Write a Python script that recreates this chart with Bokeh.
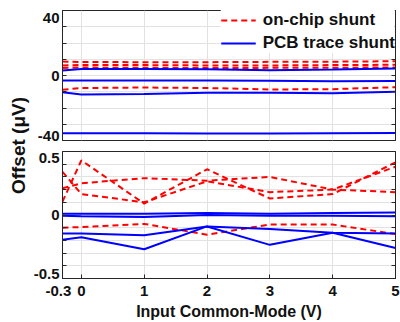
import math
from bokeh.plotting import figure
from bokeh.layouts import row, column
from bokeh.models import Range1d, FixedTicker, LinearAxis, Legend, LegendItem, Label
from bokeh.embed import file_html
from bokeh.resources import INLINE

# ---------------- data ----------------
x_vcm = [-0.3, 0, 1, 2, 3, 4, 5]
x_tick_values = [-0.3, 0, 1, 2, 3, 4, 5]
x_tick_labels = ["-0.3", "0", "1", "2", "3", "4", "5"]

top_onchip_1 = [8.6, 8.3, 8.2, 8.2, 8.4, 8.5, 8.8]
top_onchip_2 = [6.2, 6.5, 6.4, 6.2, 6.2, 6.4, 6.6]
top_onchip_3 = [4.6, 4.9, 4.7, 4.6, 4.7, 4.8, 4.9]
top_onchip_4 = [-8.8, -7.7, -7.4, -7.7, -8.6, -8.4, -7.2]
top_pcb_1 = [3.1, 4.0, 4.0, 3.9, 3.3, 3.7, 4.3]
top_pcb_2 = [-3.1, -3.0, -3.0, -3.1, -3.3, -3.5, -3.4]
top_pcb_3 = [-10.3, -11.7, -11.4, -10.6, -10.6, -10.9, -10.0]
top_pcb_4 = [-35.5, -35.5, -35.6, -35.7, -35.7, -35.6, -35.4]

bot_onchip_1 = [0.105, 0.43, 0.09, 0.36, 0.13, 0.165, 0.415]
bot_onchip_2 = [0.34, 0.165, 0.10, 0.265, 0.18, 0.20, 0.38]
bot_onchip_3 = [0.21, 0.25, 0.29, 0.27, 0.30, 0.20, 0.18]
bot_onchip_4 = [-0.10, -0.095, -0.07, -0.155, -0.075, -0.075, -0.15]
bot_pcb_1 = [0.01, 0.01, 0.01, 0.015, 0.01, 0.015, 0.02]
bot_pcb_2 = [-0.005, -0.01, -0.015, 0.0, -0.005, -0.005, -0.01]
bot_pcb_3 = [-0.145, -0.145, -0.16, -0.09, -0.11, -0.14, -0.145]
bot_pcb_4 = [-0.195, -0.175, -0.27, -0.09, -0.235, -0.14, -0.26]

top_y_ticks = [-40, 0, 40]
top_y_labels = ["-40", "0", "40"]
top_y_minor = [-30, -20, -10, 10, 20, 30]
bot_y_ticks = [-0.5, 0, 0.5]
bot_y_labels = ["-0.5", "0", "0.5"]
bot_y_minor = [-0.4, -0.3, -0.2, -0.1, 0.1, 0.2, 0.3, 0.4]

legend_labels = ["on-chip shunt", "PCB trace shunt"]
x_label = "Input Common-Mode (V)"
y_label = "Offset (\u03bcV)"

# ---------------- style ----------------
FONT = "Liberation Sans"
TXT = "#111111"
RED = "#ff0000"
BLUE = "#0000ff"
FRAME = "#262626"
GRID = "#e2e2e2"
W_LABEL = 30
W_PANEL = 400 - W_LABEL
TICK_PX = "15px"
NBSP = "\u00a0"
END_INSET_PX = (5, 7)   # end tick labels sit a few px inside the frame, as in the reference


def style_panel(p, yt, yl, ym, bottom, frame_h):
    p.outline_line_color = FRAME
    p.outline_line_width = 1
    p.background_fill_color = "white"
    p.border_fill_color = "white"
    xt = FixedTicker(ticks=x_tick_values)
    ytk = FixedTicker(ticks=yt, minor_ticks=ym)
    for ax in p.xaxis:
        ax.ticker = xt
        ax.major_tick_in = 4
        ax.major_tick_out = 0
        ax.minor_tick_in = 0
        ax.minor_tick_out = 0
        ax.axis_line_color = FRAME
        ax.major_tick_line_color = FRAME
        ax.major_label_text_font = FONT
        ax.major_label_text_font_style = "bold"
        ax.major_label_text_color = TXT
        ax.major_label_text_font_size = TICK_PX
        ax.major_label_standoff = 3
        ax.major_label_overrides = {v: (t + NBSP * 2 if i == 0 else t)
                                    for i, (v, t) in enumerate(zip(x_tick_values, x_tick_labels))}
        ax.axis_label = x_label
        ax.axis_label_text_font = FONT
        ax.axis_label_text_font_style = "bold"
        ax.axis_label_text_font_size = "16px"
        ax.axis_label_text_color = TXT
        ax.axis_label_standoff = 1
        ax.visible = bottom
    # inner left axis: tick marks only
    for ax in p.yaxis:
        ax.ticker = ytk
        ax.major_label_overrides = {v: "" for v in yt}
        ax.major_label_standoff = 0
        ax.major_tick_in = 4
        ax.major_tick_out = 0
        ax.minor_tick_in = 4
        ax.minor_tick_out = 0
        ax.axis_line_color = FRAME
        ax.major_tick_line_color = FRAME
        ax.minor_tick_line_color = FRAME
    # outer left axis: tick labels only, end labels inset like the reference
    span = yt[-1] - yt[0]
    lab_pos = [yt[0] + END_INSET_PX[0] * span / frame_h] + list(yt[1:-1]) + \
              [yt[-1] - END_INSET_PX[1] * span / frame_h]
    lab_ax = LinearAxis(ticker=FixedTicker(ticks=lab_pos, minor_ticks=[]),
                        major_label_overrides=dict(zip(lab_pos, yl)),
                        major_tick_in=0, major_tick_out=0, minor_tick_in=0, minor_tick_out=0,
                        axis_line_color=None, major_tick_line_color=None,
                        major_label_standoff=3,
                        major_label_text_font=FONT, major_label_text_font_style="bold",
                        major_label_text_font_size=TICK_PX, major_label_text_color=TXT)
    p.add_layout(lab_ax, "left")
    rax = LinearAxis(ticker=ytk, major_label_overrides={v: "" for v in yt},
                     major_label_standoff=0,
                     major_tick_in=4, major_tick_out=0, minor_tick_in=4, minor_tick_out=0,
                     axis_line_color=FRAME, major_tick_line_color=FRAME,
                     minor_tick_line_color=FRAME)
    p.add_layout(rax, "right")
    p.xgrid.grid_line_color = GRID
    p.ygrid.grid_line_color = GRID
    p.ygrid.minor_grid_line_color = GRID


def add_lines(p, reds, blues):
    rr = [p.line(x_vcm, ys, line_color=RED, line_width=2, line_dash="6 4") for ys in reds]
    bb = [p.line(x_vcm, ys, line_color=BLUE, line_width=2) for ys in blues]
    return rr, bb


# ---------------- top panel ----------------
H1, T1, B1 = 146, 10, 6
p1 = figure(width=W_PANEL, height=H1, x_range=Range1d(-0.3, 5), y_range=Range1d(-40, 40),
            toolbar_location=None, output_backend="svg",
            min_border_left=30, min_border_right=5, min_border_top=T1, min_border_bottom=B1)
style_panel(p1, top_y_ticks, top_y_labels, top_y_minor, False, H1 - T1 - B1)
reds1, blues1 = add_lines(p1, [top_onchip_1, top_onchip_2, top_onchip_3, top_onchip_4],
                          [top_pcb_1, top_pcb_2, top_pcb_3, top_pcb_4])

legend = Legend(items=[LegendItem(label=legend_labels[0], renderers=[reds1[0]]),
                       LegendItem(label=legend_labels[1], renderers=[blues1[0]])],
                location="top_right", margin=0, padding=5, spacing=3,
                glyph_width=35, glyph_height=20, label_height=20, label_standoff=7,
                label_text_font=FONT, label_text_font_style="bold",
                label_text_font_size="17px", label_text_color=TXT,
                border_line_color=None, background_fill_color="white",
                background_fill_alpha=1.0)
p1.add_layout(legend)

# ---------------- bottom panel ----------------
H2, T2 = 176, 5
p2 = figure(width=W_PANEL, height=H2, x_range=Range1d(-0.3, 5), y_range=Range1d(-0.5, 0.5),
            toolbar_location=None, output_backend="svg",
            min_border_left=30, min_border_right=5, min_border_top=T2, min_border_bottom=0)
style_panel(p2, bot_y_ticks, bot_y_labels, bot_y_minor, True, 131)
add_lines(p2, [bot_onchip_1, bot_onchip_2, bot_onchip_3, bot_onchip_4],
          [bot_pcb_1, bot_pcb_2, bot_pcb_3, bot_pcb_4])

# ---------------- shared y label ----------------
pl = figure(width=W_LABEL, height=322, x_range=Range1d(0, 1), y_range=Range1d(0, 322),
            toolbar_location=None, output_backend="svg", x_axis_type=None, y_axis_type=None,
            min_border=0)
pl.outline_line_color = None
pl.grid.visible = False
pl.add_layout(Label(x=0.6, y=177, text=y_label, angle=math.pi / 2,
                    text_align="center", text_baseline="middle",
                    text_font=FONT, text_font_style="bold", text_font_size="19px",
                    text_color=TXT))

layout = row(pl, column(p1, p2))
open("out.html", "w").write(file_html(layout, INLINE))
